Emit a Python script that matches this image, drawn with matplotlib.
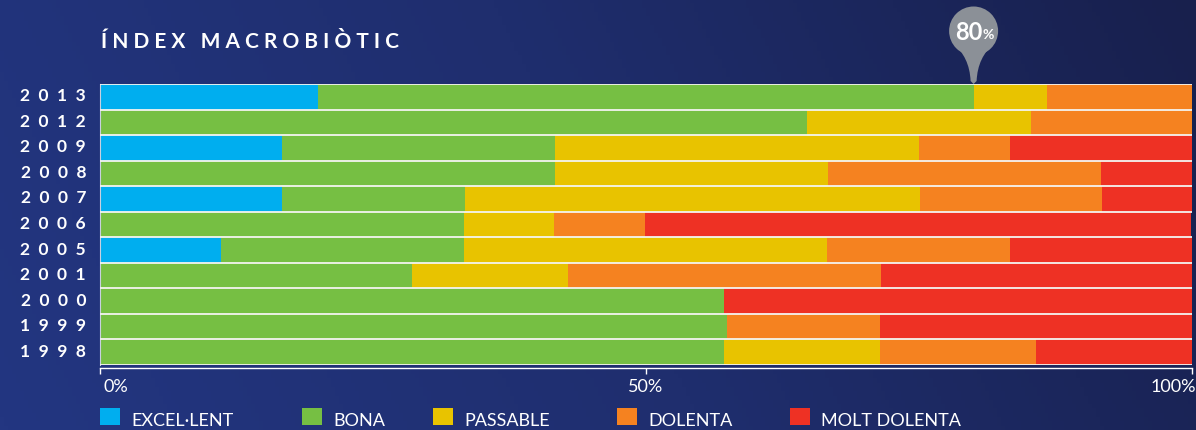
import numpy as np
import matplotlib.pyplot as plt
import matplotlib.transforms as mtransforms
from matplotlib.patches import Rectangle, Circle, PathPatch
from matplotlib.path import Path
from matplotlib.colors import LinearSegmentedColormap

plt.rcParams['font.family'] = ['Lato', 'DejaVu Sans']

years = ['2013', '2012', '2009', '2008', '2007', '2006', '2005', '2001', '2000', '1999', '1998']
excellent = [20.0, 0, 16.7, 0, 16.7, 0, 11.1, 0, 0, 0, 0]
bona = [60.0, 64.7, 25.0, 41.7, 16.7, 33.3, 22.2, 28.6, 57.1, 57.4, 57.1]
passable = [6.7, 20.6, 33.3, 25.0, 41.7, 8.3, 33.3, 14.3, 0, 0, 14.3]
dolenta = [13.3, 14.7, 8.3, 25.0, 16.7, 8.3, 16.7, 28.6, 0, 14.0, 14.3]
molt = [0, 0, 16.7, 8.3, 8.3, 50.0, 16.7, 28.5, 42.9, 28.6, 14.3]

labels = ['EXCEL·LENT', 'BONA', 'PASSABLE', 'DOLENTA', 'MOLT DOLENTA']
colors = ['#00aeef', '#76bf43', '#e8c300', '#f58220', '#ee3124']
series = [excellent, bona, passable, dolenta, molt]
xticks = [0, 50, 100]

W, H = 1196, 431
fig = plt.figure(figsize=(W / 100, H / 100), dpi=100)

# background gradient
bg = fig.add_axes([0, 0, 1, 1], zorder=-1)
cmap = LinearSegmentedColormap.from_list('bg', ['#233681', '#1f2e6e', '#18204d'])
gx = np.linspace(0, 1, 300)
gy = np.linspace(0, 1, 100)
G = gx[None, :] * 0.85 + gy[:, None] * 0.15
bg.imshow(G, cmap=cmap, aspect='auto', extent=[0, 1, 0, 1], origin='lower')
bg.axis('off')

ax = fig.add_axes([100 / W, 1 - 366 / H, 1092 / W, 281 / H])
ax.set_facecolor('none')
y = np.arange(len(years))
left = np.zeros(len(years))
for vals, c in zip(series, colors):
    ax.barh(y, vals, left=left, height=1.0, color=c, linewidth=0)
    left += np.array(vals)

for k in range(len(years) + 1):
    ax.axhline(k - 0.5, color='#f4f4f0', lw=1.3, zorder=3)

ax.set_xlim(0, 100)
ax.set_ylim(len(years) - 0.5, -0.5)
ax.tick_params(axis='y', length=0, pad=10)
ax.tick_params(axis='x', length=4, width=1, color='white', labelbottom=False)
ax.set_yticks(y)
ax.set_yticklabels(['  '.join(s) for s in years], color='white', fontsize=12.5,
                   fontweight='bold')
up = mtransforms.ScaledTranslation(0, 0.03, fig.dpi_scale_trans)
for lab in ax.get_yticklabels():
    lab.set_transform(lab.get_transform() + up)
ax.set_xticks(xticks)

for s in ['top', 'right']:
    ax.spines[s].set_visible(False)
ax.spines['bottom'].set_position(('outward', 2))
ax.spines['bottom'].set_color('white')
ax.spines['bottom'].set_linewidth(1)
ax.spines['left'].set_color('#c8d0e0')
ax.spines['left'].set_linewidth(0.8)

# overlay in pixel coordinates
ov = fig.add_axes([0, 0, 1, 1], zorder=5)
ov.set_xlim(0, W)
ov.set_ylim(H, 0)
ov.axis('off')
ov.patch.set_alpha(0)

# x tick labels
for t, ha, dx in zip(xticks, ['left', 'center', 'right'], [4, 0, 4]):
    ov.text(100 + t * 1092 / 100 + dx, 387, f'{t}%', color='white', fontsize=13,
            ha=ha, va='center')

ov.text(101, 42, 'Í N D E X   M A C R O B I Ò T I C', color='white', fontsize=15,
        fontweight='bold', va='center', ha='left')

# pin marker at the top row's "bona" limit
px = 100 + (excellent[0] + bona[0]) * 1092 / 100
pin_col = '#8b9097'
ov.add_patch(Circle((px, 32), 24.5, color=pin_col, lw=0))
verts = [(px - 21, 44), (px - 4, 58), (px - 3, 82), (px, 85), (px + 3, 82),
         (px + 4, 58), (px + 21, 44), (px - 21, 44)]
codes = [Path.MOVETO, Path.CURVE3, Path.CURVE3, Path.LINETO, Path.LINETO,
         Path.CURVE3, Path.CURVE3, Path.CLOSEPOLY]
ov.add_patch(PathPatch(Path(verts, codes), color=pin_col, lw=0))
ov.text(px + 9, 32, '80', color='white', fontsize=17, fontweight='bold',
        ha='right', va='center')
ov.text(px + 9, 35, '%', color='white', fontsize=10, fontweight='bold',
        ha='left', va='center')

# legend
leg_x = [100, 302, 433, 617, 790]
for lx, lab, c in zip(leg_x, labels, colors):
    ov.add_patch(Rectangle((lx, 409), 20, 17, color=c, lw=0))
    ov.text(lx + 31, 421, lab, color='white', fontsize=13, va='center', ha='left')

fig.savefig('out.png', dpi=100)
